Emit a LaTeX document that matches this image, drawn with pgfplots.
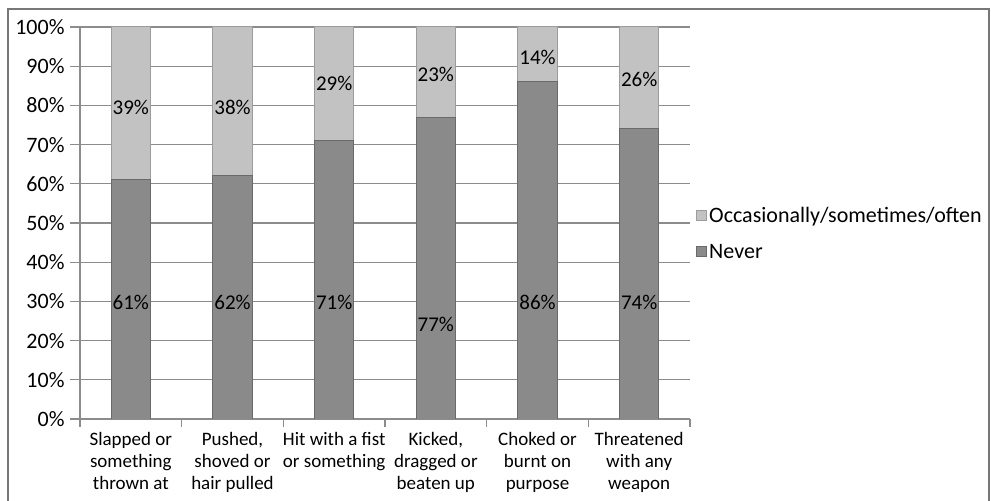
\documentclass[border=0pt]{standalone}
\usepackage{pgfplots}
\pgfplotsset{compat=1.18}
\usepackage{fontspec}
\setmainfont{Carlito}
\definecolor{lightbar}{HTML}{C2C2C2}
\definecolor{lightedge}{HTML}{9C9C9C}
\definecolor{darkbar}{HTML}{8A8A8A}
\definecolor{darkedge}{HTML}{6A6A6A}
\definecolor{gridc}{HTML}{8C8C8C}
\definecolor{framec}{HTML}{777777}
\begin{document}
\begin{tikzpicture}
\path[use as bounding box] (0,0) rectangle (991bp,501bp);
\draw[framec, line width=1.3bp] (8bp,0) -- (8bp,492bp) -- (989bp,492bp) -- (989bp,0);
\pgfplotsset{
  base/.style={
    scale only axis, width=610bp, height=392bp,
    at={(80bp,82bp)}, anchor=south west,
    xmin=-0.5, xmax=5.5, ymin=0, ymax=100,
  }
}
\begin{axis}[base,
  ybar stacked, bar width=0.39,
  axis x line*=bottom, axis y line*=left,
  axis line style={gridc, line width=1.2bp},
  ymajorgrids, grid style={gridc, line width=1.2bp},
  ytick={0,10,...,100},
  yticklabels={0\%,10\%,20\%,30\%,40\%,50\%,60\%,70\%,80\%,90\%,100\%},
  tick align=outside, major tick length=10bp,
  tick style={gridc, line width=1.2bp},
  xtick={0,...,5},
  x tick style={draw=none},
  xticklabels={{Slapped or\\something\\thrown at},{Pushed,\\shoved or\\hair pulled},{Hit with a fist\\or something},{Kicked,\\dragged or\\beaten up},{Choked or\\burnt on\\purpose},{Threatened\\with any\\weapon}},
  xticklabel style={align=center, font=\fontsize{19bp}{22bp}\selectfont, text depth=0pt},
  yticklabel style={font=\fontsize{22bp}{24bp}\selectfont, xshift=-2bp},
  extra x ticks={-0.5,0.5,1.5,2.5,3.5,4.5,5.5},
  extra x tick labels={},
  extra x tick style={grid=none, x tick style={draw=gridc, line width=1.2bp}, major tick length=8bp},
  legend style={at={(1.005,0.473)}, anchor=west, draw=none, fill=none,
    font=\fontsize{22bp}{24bp}\selectfont, row sep=16bp,
    /tikz/every even column/.append style={column sep=1bp}},
  legend cell align=left,
  reverse legend,
  legend image code/.code={\draw[#1] (0bp,-5bp) rectangle (10bp,5bp);},
]
\addplot[fill=darkbar, draw=darkedge, line width=1bp] coordinates {(0,61) (1,62) (2,71) (3,77) (4,86) (5,74)};
\addplot[fill=lightbar, draw=lightedge, line width=1bp] coordinates {(0,39) (1,38) (2,29) (3,23) (4,14) (5,26)};
\legend{Never,Occasionally/sometimes/often}
\end{axis}
\begin{axis}[base, hide axis]
\addplot[only marks, mark=none, nodes near coords, point meta=explicit symbolic,
  nodes near coords align=center,
  every node near coord/.append style={font=\fontsize{21bp}{24bp}\selectfont, black, inner sep=0pt}]
 coordinates {
 (0,29.85) [61\%] (1,29.85) [62\%] (2,29.85) [71\%] (3,24.0) [77\%] (4,29.85) [86\%] (5,29.85) [74\%]
 (0,79.6) [39\%] (1,79.6) [38\%] (2,85.7) [29\%] (3,87.8) [23\%] (4,92.3) [14\%] (5,86.5) [26\%]
 };
\end{axis}
\end{tikzpicture}
\end{document}
